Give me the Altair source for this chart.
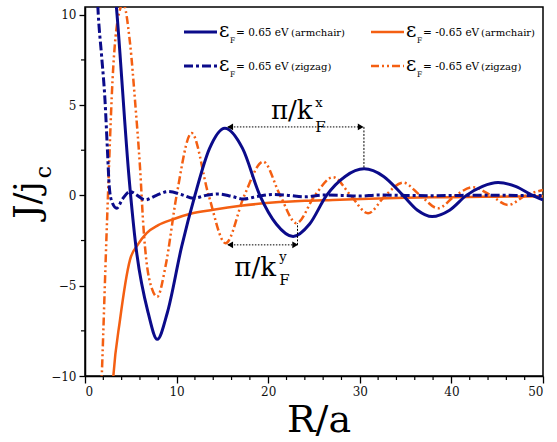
import altair as alt
import pandas as pd

# ---------------- data ----------------
# E_F = 0.65 eV (armchair)
arm_pos_x = [3.0, 3.5, 4.83, 5.56, 6.9, 7.89, 8.98, 10.55, 12.0, 13.6, 15.27, 17.2, 19.09, 20.9, 22.72,
             24.5, 26.37, 28.4, 30.47, 32.6, 34.72, 36.3, 37.89, 39.8, 41.64, 43.4, 45.09, 47.0, 48.87, 50.0]
arm_pos_y = [13.0, 10.0, 0.86, -2.84, -6.51, -7.97, -6.51, -2.84, 0.0, 2.6, 3.72, 2.6, 0.0, -1.6, -2.28,
             -1.6, 0.0, 1.05, 1.47, 1.05, 0.0, -0.82, -1.17, -0.82, 0.0, 0.5, 0.71, 0.5, 0.0, -0.25]

# E_F = -0.65 eV (armchair)
arm_neg_x = [2.9, 3.09, 3.82, 4.91, 5.8, 6.73, 8.0, 9.63, 11.5, 14.0, 17.0, 20.5, 24.0, 27.05, 31.0,
             35.0, 40.0, 45.0, 50.0]
arm_neg_y = [-11.5, -10.04, -6.9, -3.57, -2.7, -2.09, -1.65, -1.32, -1.02, -0.8, -0.58, -0.4, -0.3, -0.25,
             -0.18, -0.13, -0.1, -0.07, -0.05]

# E_F = 0.65 eV (zigzag)
zig_pos_x = [1.3, 1.45, 1.8, 2.18, 2.45, 2.65, 2.9, 3.46, 4.1, 4.91, 5.7, 6.55, 7.8, 9.09, 10.5, 11.81,
             13.2, 14.6, 16.0, 17.3, 18.9, 20.5, 22.2, 24.0, 26.0, 28.0, 30.0, 32.0, 35.0, 38.0, 41.0,
             44.0, 47.0, 50.0]
zig_pos_y = [11.5, 10.0, 7.8, 5.29, 2.5, 0.49, -0.3, -0.71, -0.2, 0.21, 0.0, -0.25, 0.0, 0.21, 0.05, -0.16,
             0.0, 0.08, -0.05, -0.2, -0.05, 0.05, 0.0, -0.08, 0.02, 0.0, -0.04, 0.02, 0.0, -0.02, 0.0,
             0.01, 0.0, 0.0]

# E_F = -0.65 eV (zigzag)
zig_neg_x = [1.6, 1.83, 2.4, 3.09, 3.6, 4.18, 4.9, 5.5, 6.0, 6.4, 7.0, 7.89, 8.8, 10.0, 11.64, 13.5,
             15.35, 17.4, 19.45, 21.3, 23.09, 25.1, 27.09, 29.0, 30.9, 32.8, 34.72, 36.6, 38.54, 40.45,
             42.36, 44.3, 46.18, 48.1, 50.0]
zig_neg_y = [-13.0, -10.0, -1.5, 7.14, 9.8, 10.6, 8.5, 5.0, 1.6, -1.9, -4.6, -5.61, -3.9, 0.0, 3.45, 0.0,
             -2.65, 0.0, 1.87, 0.0, -1.54, 0.0, 1.01, 0.0, -0.99, 0.0, 0.71, 0.0, -0.71, 0.0,
             0.45, 0.0, -0.53, 0.0, 0.3]

x_ticks = [0, 10, 20, 30, 40, 50]
x_minor = [2, 4, 6, 8, 12, 14, 16, 18, 22, 24, 26, 28, 32, 34, 36, 38, 42, 44, 46, 48]
y_ticks = [-10, -5, 0, 5, 10]
y_minor = [-7.5, -2.5, 2.5, 7.5]

# annotation geometry (data coordinates)
kx_line_x = [15.6, 30.35]
kx_line_y = [3.79, 3.79]
kx_drop_x = [30.45, 30.45]
kx_drop_y = [3.79, 1.5]
ky_line_x = [15.6, 23.2]
ky_line_y = [-2.74, -2.74]
ky_drop_x = [23.2, 23.2]
ky_drop_y = [-2.74, -1.54]

BLUE = "#0B0B8A"
ORANGE = "#F45F12"
SERIF = "DejaVu Serif"
W, H = 458, 369

xs = alt.Scale(domain=[0, 50], nice=False, zero=False)
ys = alt.Scale(domain=[-10, 10.43], nice=False, zero=False)


def series(xv, yv, color, dash, width):
    df = pd.DataFrame({"x": xv, "y": yv})
    kw = dict(color=color, strokeWidth=width, clip=True, interpolate="monotone")
    if dash:
        kw["strokeDash"] = dash
    return alt.Chart(df).mark_line(**kw).encode(
        x=alt.X("x:Q", scale=xs), y=alt.Y("y:Q", scale=ys))


base_axes = alt.Chart(pd.DataFrame({"x": [0], "y": [0]})).mark_point(opacity=0).encode(
    x=alt.X("x:Q", scale=xs, title=None,
            axis=alt.Axis(values=x_ticks, tickSize=7, labelPadding=3, grid=False, format="d")),
    y=alt.Y("y:Q", scale=ys, title=None,
            axis=alt.Axis(values=y_ticks, tickSize=6, labelPadding=3, grid=False, format="d")),
)

minor_x = alt.Chart(pd.DataFrame({"x": x_minor})).mark_rule(color="black", strokeWidth=1.2).encode(
    x=alt.X("x:Q", scale=xs), y=alt.value(H), y2=alt.value(H + 4))
minor_y = alt.Chart(pd.DataFrame({"y": y_minor})).mark_rule(color="black", strokeWidth=1.2).encode(
    y=alt.Y("y:Q", scale=ys), x=alt.value(0), x2=alt.value(-4))

l1 = series(arm_pos_x, arm_pos_y, BLUE, None, 3)
l2 = series(arm_neg_x, arm_neg_y, ORANGE, None, 2.5)
l3 = series(zig_pos_x, zig_pos_y, BLUE, [9, 3, 3, 3], 3)
l4 = series(zig_neg_x, zig_neg_y, ORANGE, [8, 3, 2, 3, 2, 3], 2.5)


def dotted(xv, yv, dash=(1.5, 1.5)):
    df = pd.DataFrame({"x": xv, "y": yv})
    return alt.Chart(df).mark_line(color="black", strokeWidth=1, strokeDash=list(dash)).encode(
        x=alt.X("x:Q", scale=xs), y=alt.Y("y:Q", scale=ys))


def arrow(xv, yv, shape):
    df = pd.DataFrame({"x": [xv], "y": [yv]})
    return alt.Chart(df).mark_point(shape=shape, filled=True, color="black", size=45, opacity=1).encode(
        x=alt.X("x:Q", scale=xs), y=alt.Y("y:Q", scale=ys))


def dtext(txt, xv, yv, size, align="left", baseline="alphabetic", dx=0, dy=0):
    df = pd.DataFrame({"x": [xv], "y": [yv]})
    return alt.Chart(df).mark_text(text=txt, font=SERIF, fontSize=size, align=align,
                                   baseline=baseline, dx=dx, dy=dy, color="black").encode(
        x=alt.X("x:Q", scale=xs), y=alt.Y("y:Q", scale=ys))


ann = [
    dotted(kx_line_x, kx_line_y), dotted(kx_drop_x, kx_drop_y, (2, 1.5)),
    arrow(kx_line_x[0] + 0.25, kx_line_y[0], "triangle-left"),
    arrow(kx_line_x[1] - 0.25, kx_line_y[1], "triangle-right"),
    dotted(ky_line_x, ky_line_y), dotted(ky_drop_x, ky_drop_y, (2, 1.5)),
    arrow(ky_line_x[0] + 0.25, ky_line_y[0], "triangle-left"),
    arrow(ky_line_x[1] - 0.25, ky_line_y[1], "triangle-right"),
    dtext("π/k", 20.3, 4.24, 26),
    dtext("x", 25.15, 4.24, 13, dy=-12),
    dtext("F", 25.15, 4.24, 15, dy=13),
    dtext("π/k", 16.3, -4.46, 26),
    dtext("y", 21.2, -4.46, 13, dy=-15),
    dtext("F", 21.2, -4.46, 15, dy=9),
]

one = pd.DataFrame({"a": [0]})


def ptext(txt, px, py, size, align="left", angle=0, baseline="alphabetic"):
    kw = dict(text=txt, font=SERIF, fontSize=size, align=align, baseline=baseline, color="black")
    if angle:
        kw["angle"] = angle
    return alt.Chart(one).mark_text(**kw).encode(x=alt.value(px), y=alt.value(py))


def prule(x1, x2, py, color, dash, width):
    kw = dict(color=color, strokeWidth=width)
    if dash:
        kw["strokeDash"] = dash
    return alt.Chart(one).mark_rule(**kw).encode(x=alt.value(x1), x2=alt.value(x2), y=alt.value(py))


legend_rows = [
    # col offset, line y, colour, dash, width, value text, kind text, kind offset
    (0, 25, BLUE, None, 3, "= 0.65 eV", "(armchair)", 107),
    (187, 25, ORANGE, None, 2.5, "= -0.65 eV", "(armchair)", 110),
    (0, 59, BLUE, [9, 3, 3, 3], 3, "= 0.65 eV", "(zigzag)", 107),
    (187, 59, ORANGE, [8, 3, 2, 3, 2, 3], 2.5, "= -0.65 eV", "(zigzag)", 110),
]
leg = []
for off, ry, col, dash, wd, val, kind, koff in legend_rows:
    x0 = 99 + off
    leg.append(prule(x0, x0 + 33, ry, col, dash, wd))
    leg.append(ptext("ε", x0 + 35, ry + 5, 20))
    leg.append(ptext("F", x0 + 46, ry + 11, 7.5))
    leg.append(ptext(val, x0 + 52, ry + 4, 10.5))
    leg.append(ptext(kind, x0 + koff, ry + 4, 10))

titles = [
    ptext("R/a", 234, 425, 38, align="center"),
    ptext("J/j", -46, 193, 36, align="center", angle=270),
    ptext("c", -34, 165, 22, align="center", angle=270),
]

chart = alt.layer(base_axes, minor_x, minor_y, l2, l4, l3, l1, *ann, *leg, *titles).properties(
    width=W, height=H,
    autosize=alt.AutoSizeParams(type="none"),
    padding={"left": 85, "top": 7, "right": 14, "bottom": 66},
).configure_view(stroke="black", strokeWidth=1.5).configure_axis(
    domainColor="black", domainWidth=1.5, tickColor="black", tickWidth=1.3,
    labelFont=SERIF, labelFontSize=12, labelColor="#111111",
)

chart.save("out.html", embed_options={"renderer": "svg", "actions": False})
